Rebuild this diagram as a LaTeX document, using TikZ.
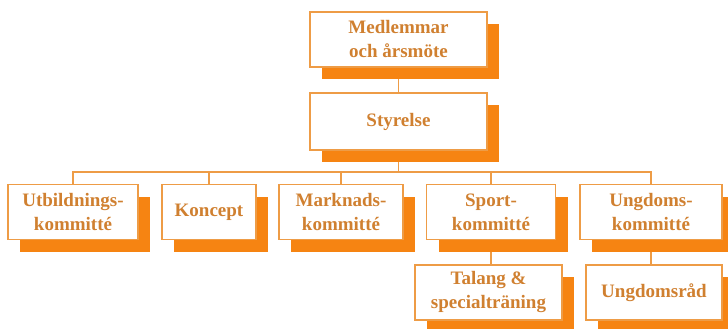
\documentclass[tikz,border=0pt]{standalone}
\usepackage{fontspec}
\setmainfont{Liberation Serif}
\usetikzlibrary{shadows,backgrounds}
\definecolor{orgshadow}{RGB}{246,132,18}
\definecolor{orgline}{RGB}{238,156,70}
\definecolor{orgtext}{RGB}{208,128,48}
\tikzset{
  unit/.style={draw=orgline, line width=1.4pt, fill=white, text=orgtext,
    align=center, inner sep=0pt, minimum height=55pt,
    font=\fontsize{19}{24}\selectfont\bfseries,
    general shadow={shadow xshift=12pt, shadow yshift=-12pt, fill=orgshadow, draw=none}},
  link/.style={draw=orgline, line width=1.4pt}
}
\begin{document}
\begin{tikzpicture}[x=1pt, y=-1pt]
  \useasboundingbox (0,0) rectangle (728,329);
  % top levels
  \node[unit, minimum width=177pt] (arsmote) at (398.5,39.5) {Medlemmar\\och årsmöte};
  \node[unit, minimum width=177pt, minimum height=57pt] (styrelse) at (398.5,121.5) {Styrelse};
  % committees
  \node[unit, minimum width=130pt] (utbildning) at (73,212) {Utbildnings-\\kommitté};
  \node[unit, minimum width=94pt] (koncept) at (209,212) {Koncept};
  \node[unit, minimum width=124pt] (marknad) at (341,212) {Marknads-\\kommitté};
  \node[unit, minimum width=129pt] (sport) at (491,212) {Sport-\\kommitté};
  \node[unit, minimum width=142pt] (ungdom) at (651,212) {Ungdoms-\\kommitté};
  % sub units
  \node[unit, minimum width=147pt] (talang) at (488.5,292.5) {Talang \&\\specialträning};
  \node[unit, minimum width=136pt] (ungdomsrad) at (654,292.5) {Ungdomsråd};
  \coordinate (bus) at (0,172);
  \begin{scope}[on background layer]
    \draw[link] (arsmote) -- (styrelse);
    \draw[link] (styrelse.south) -- (styrelse.south |- bus);
    \draw[link] (utbildning.north) -- (utbildning.north |- bus) -- (ungdom.north |- bus) -- (ungdom.north);
    \draw[link] (koncept.north) -- (koncept.north |- bus);
    \draw[link] (marknad.north) -- (marknad.north |- bus);
    \draw[link] (sport.north) -- (sport.north |- bus);
    \draw[link] (sport) -- (talang.north -| sport);
    \draw[link] (ungdom) -- (ungdomsrad.north -| ungdom);
  \end{scope}
\end{tikzpicture}
\end{document}
